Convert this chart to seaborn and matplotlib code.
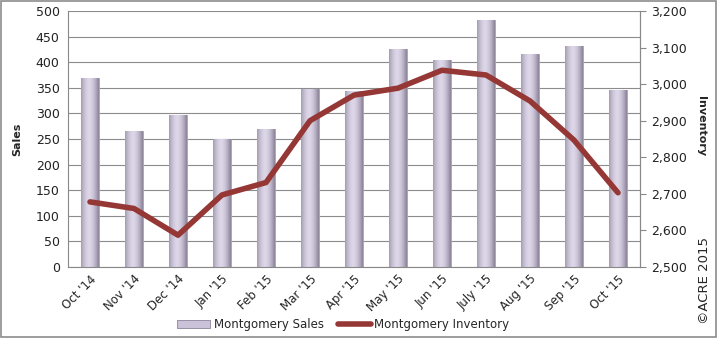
import numpy as np
import pandas as pd
import matplotlib
matplotlib.use("Agg")
import matplotlib.pyplot as plt
import seaborn as sns
from matplotlib.lines import Line2D
from matplotlib.patches import Patch, Rectangle

months = ["Oct '14", "Nov '14", "Dec '14", "Jan '15", "Feb '15", "Mar '15", "Apr '15",
          "May '15", "Jun '15", "July '15", "Aug '15", "Sep '15", "Oct '15"]
sales = [370, 265, 296, 250, 269, 347, 343, 425, 404, 482, 416, 431, 345]
inventory = [2678, 2660, 2587, 2697, 2731, 2900, 2970, 2989, 3038, 3025, 2954, 2847, 2703]
sales_ticks = list(range(0, 501, 50))
inv_ticks = list(range(2500, 3201, 100))

df = pd.DataFrame({"Month": months, "Sales": sales, "Inventory": inventory})

sns.set_style("white")
plt.rcParams["font.family"] = ["DejaVu Sans"]

fig = plt.figure(figsize=(7.18, 3.38), dpi=100)
ax = fig.add_axes([68 / 718, 1 - 267 / 338, (640 - 68) / 718, (267 - 11) / 338])

bar_color = "#c9c2d8"
sns.barplot(data=df, x="Month", y="Sales", color=bar_color, width=0.39, ax=ax,
            saturation=1, edgecolor="#a59db3", linewidth=0.6, zorder=2)

# cylinder-like shading over each bar
grad = np.linspace(0, 1, 64)
shade = 1 - (np.abs(grad - 0.45) / 0.55) ** 1.8
cmap_img = np.zeros((1, 64, 3))
base = np.array(matplotlib.colors.to_rgb("#dcd6e8"))
dark = np.array(matplotlib.colors.to_rgb("#8a8197"))
for i, s in enumerate(shade):
    cmap_img[0, i] = dark + (base - dark) * s
for p in list(ax.patches):
    x0, y0 = p.get_x(), p.get_y()
    w, h = p.get_width(), p.get_height()
    im = ax.imshow(cmap_img, extent=[x0, x0 + w, y0, y0 + h], aspect="auto",
                   zorder=2.5, interpolation="bicubic")
    clip = Rectangle((x0, y0), w, h, transform=ax.transData)
    im.set_clip_path(clip)

ax.set_xlim(-0.5, len(months) - 0.5)
ax.set_ylim(0, 500)
ax.set_yticks(sales_ticks)
ax.yaxis.grid(True, color="#8c8c8c", linewidth=0.8, zorder=0)
ax.set_axisbelow(True)
ax.set_xlabel("")
ax.set_ylabel("Sales", fontsize=8, fontweight="bold", labelpad=10)
ax.tick_params(axis="y", labelsize=9, length=0, pad=6, colors="#222222")
ax.set_xticks(np.arange(len(months)))
ax.set_xticklabels(months, rotation=45, ha="right", rotation_mode="anchor", fontsize=8.5)
ax.tick_params(axis="x", length=0, pad=4)
# minor ticks between categories on x axis
ax.set_xticks(np.arange(-0.5, len(months), 1), minor=True)
ax.tick_params(axis="x", which="minor", length=4, color="#888888", direction="out")
for side in ["top"]:
    ax.spines[side].set_visible(False)
for side in ["left", "bottom", "right"]:
    ax.spines[side].set_color("#888888")
    ax.spines[side].set_linewidth(0.8)

ax2 = ax.twinx()
sns.lineplot(x=np.arange(len(months)), y=inventory, ax=ax2, color="#953735",
             linewidth=4, zorder=5, legend=False)
ax2.set_ylim(2500, 3200)
ax2.set_yticks(inv_ticks)
ax2.set_yticklabels([f"{v:,}" for v in inv_ticks])
ax2.tick_params(axis="y", labelsize=9, length=4, color="#888888", pad=4, colors="#222222")
ax2.tick_params(axis="y", colors="#888888", labelcolor="#222222")
ax2.set_ylabel("Inventory", fontsize=8, fontweight="bold", rotation=-90, labelpad=34)
ax2.yaxis.set_label_coords(1.115, 0.55)
for side in ["top", "left", "bottom"]:
    ax2.spines[side].set_visible(False)
ax2.spines["right"].set_color("#888888")
ax2.spines["right"].set_linewidth(0.8)
ax2.set_xlim(-0.5, len(months) - 0.5)

handles = [Patch(facecolor=bar_color, edgecolor="#8b8299", linewidth=0.6),
           Line2D([0], [0], color="#953735", linewidth=4)]
fig.legend(handles, ["Montgomery Sales", "Montgomery Inventory"], loc="center",
           bbox_to_anchor=(0.478, 0.04), ncol=2, frameon=False, fontsize=8.5,
           handlelength=2.8, handleheight=0.6, columnspacing=1.2, handletextpad=0.3)

fig.text(705 / 718, 1 - 280 / 338, "©ACRE 2015", rotation=90, ha="center", va="center",
         fontsize=9.5)

fig.patches.append(Rectangle((0.002, 0.003), 0.995, 0.993, transform=fig.transFigure,
                             fill=False, edgecolor="#8c8c8c", linewidth=1.2))

fig.savefig("out.png", dpi=100)
